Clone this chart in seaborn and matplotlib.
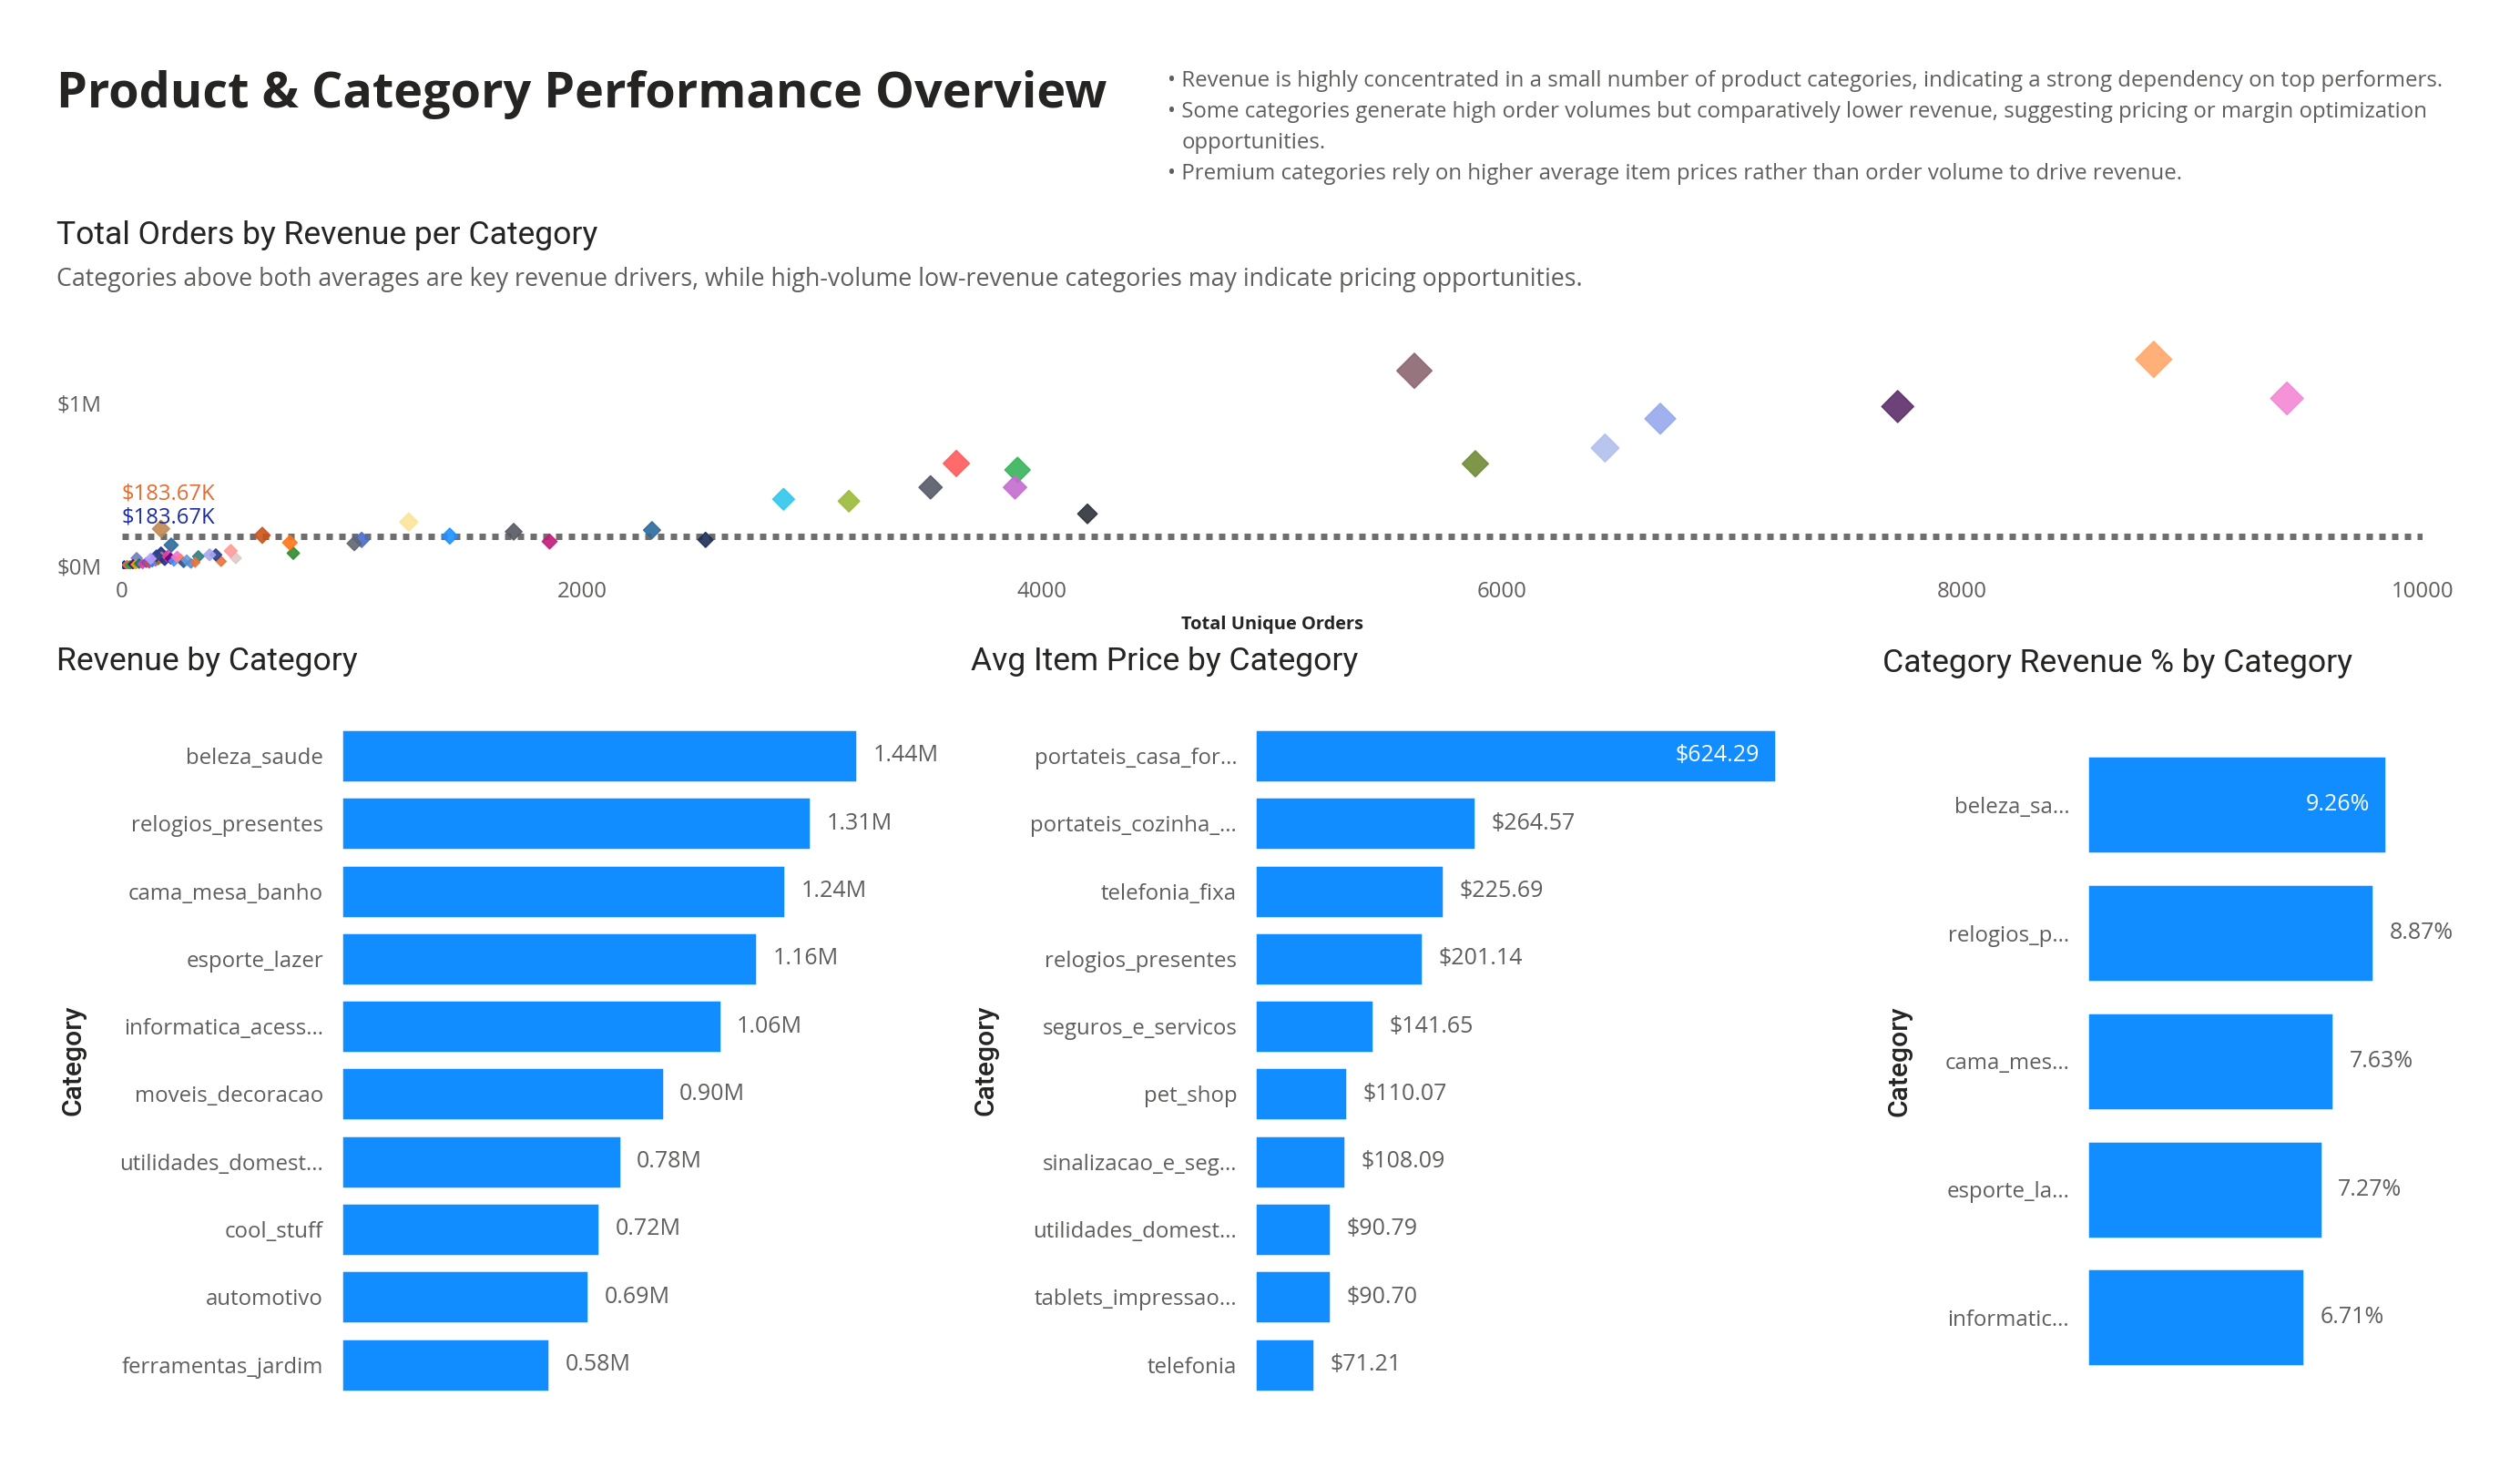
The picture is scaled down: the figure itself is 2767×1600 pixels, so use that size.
import matplotlib
matplotlib.use("Agg")
import matplotlib.pyplot as plt
import pandas as pd
import seaborn as sns

# ---- data ----
revenue_categories = [
    "beleza_saude", "relogios_presentes", "cama_mesa_banho", "esporte_lazer",
    "informatica_acess...", "moveis_decoracao", "utilidades_domest...",
    "cool_stuff", "automotivo", "ferramentas_jardim",
]
revenue_values = [1.44, 1.31, 1.24, 1.16, 1.06, 0.90, 0.78, 0.72, 0.69, 0.58]  # millions

price_categories = [
    "portateis_casa_for...", "portateis_cozinha_...", "telefonia_fixa",
    "relogios_presentes", "seguros_e_servicos", "pet_shop",
    "sinalizacao_e_seg...", "utilidades_domest...", "tablets_impressao...",
    "telefonia",
]
price_values = [624.29, 264.57, 225.69, 201.14, 141.65, 110.07, 108.09, 90.79, 90.70, 71.21]

pct_categories = ["beleza_sa...", "relogios_p...", "cama_mes...", "esporte_la...", "informatic..."]
pct_values = [9.26, 8.87, 7.63, 7.27, 6.71]

scatter_orders = [
    5618, 8832, 9411, 7719, 6687, 6447, 5883, 4197, 3627, 3893,
    3882, 3515, 3160, 2876, 2537, 2304, 1859, 1703, 1425, 1247,
    1042, 1010, 745, 730, 610, 495, 473, 431, 408, 381,
    332, 214, 170, 170, 64,
    10, 22, 35, 48, 60, 75, 90, 105, 118, 132, 146, 158, 172, 186,
    198, 212, 226, 240, 255, 268, 282, 300, 318, 150, 125,
]
scatter_revenue = [
    1.20, 1.27, 1.03, 0.98, 0.905, 0.725, 0.628, 0.32, 0.63, 0.59,
    0.483, 0.483, 0.398, 0.41, 0.16, 0.22, 0.15, 0.21, 0.183, 0.27,
    0.16, 0.138, 0.078, 0.143, 0.188, 0.048, 0.092, 0.028, 0.068, 0.068,
    0.058, 0.128, 0.228, 0.078, 0.048,
    0.004, 0.006, 0.005, 0.010, 0.008, 0.014, 0.012, 0.020, 0.016, 0.025,
    0.030, 0.040, 0.050, 0.035, 0.060, 0.045, 0.030, 0.055, 0.040, 0.020,
    0.035, 0.015, 0.022, 0.062, 0.044,
]
scatter_colors = [
    "#8B6670", "#FFA86B", "#F487D5", "#5C2D6B", "#96A9EB", "#B0BFEE", "#6F8B35", "#2D323A", "#FF5B5B", "#36B45A",
    "#C46DCF", "#545A66", "#9ABB3A", "#2FC7EE", "#1B2E56", "#2C6A9C", "#C41A7B", "#555A60", "#1E90FF", "#FCE49A",
    "#4A6BC8", "#5E6670", "#2E8B2E", "#FF7518", "#CC5418", "#E0C8C8", "#FF9A9A", "#E8733A", "#2C3E8C", "#A8A8F0",
    "#2E7D7D", "#2C6A9C", "#C08850", "#1F2D8C", "#7080C0",
    "#12239E", "#E66C37", "#1AAB40", "#6B007B", "#D9B300", "#197278", "#E044A7", "#744EC2", "#D64550", "#118DFF",
    "#8D6FD1", "#99700A", "#C08850", "#1F2D8C", "#E044A7", "#6B007B", "#4092FF", "#F472D0", "#FF8080", "#255A91",
    "#6B9BD1", "#4A90E2", "#E8733A", "#2C3E8C", "#B5A1FF",
]

avg_revenue = 0.18367  # millions

bullets = [
    "Revenue is highly concentrated in a small number of product categories, indicating a strong dependency on top performers.",
    "Some categories generate high order volumes but comparatively lower revenue, suggesting pricing or margin optimization",
    "opportunities.",
    "Premium categories rely on higher average item prices rather than order volume to drive revenue.",
]

BAR_COLOR = "#118DFF"
DARK = "#252423"
GRAY = "#605E5C"
BODY_FONT = "Open Sans"
HEAD_FONT = "Roboto"

W, H = 1550, 896  # layout grid


def fx(x):
    return x / W


def fy(y):
    return 1 - y / H


sns.set_style("white")
plt.rcParams["font.family"] = [BODY_FONT, "DejaVu Sans"]

fig = plt.figure(figsize=(2767 / 180, 1600 / 180), dpi=180)
fig.patch.set_facecolor("white")

# ---- header ----
fig.text(fx(35), fy(58), "Product & Category Performance Overview", fontsize=21.6,
         fontweight="bold", color=DARK, va="center", ha="left")
bullet_rows = [(718, 50, True), (718, 69, True), (727, 88, False), (718, 107, True)]
for (bx, by, dot), line in zip(bullet_rows, bullets):
    fig.text(fx(bx), fy(by), ("• " if dot else "") + line, fontsize=9.6, color=GRAY,
             va="center", ha="left")

fig.text(fx(35), fy(145), "Total Orders by Revenue per Category", fontsize=14.2,
         family=HEAD_FONT, color=DARK, va="center")
fig.text(fx(35), fy(172), "Categories above both averages are key revenue drivers, while "
         "high-volume low-revenue categories may indicate pricing opportunities.",
         fontsize=10.7, color=GRAY, va="center")

# ---- scatter ----
scatter_df = pd.DataFrame({
    "orders": scatter_orders,
    "revenue": [v * 1e6 for v in scatter_revenue],
    "point": [f"p{i}" for i in range(len(scatter_orders))],
})
palette = dict(zip(scatter_df["point"], scatter_colors))

ax_sc = fig.add_axes([fx(75), fy(350), fx(1490) - fx(75), (350 - 203) / H])
ax_sc.axhline(avg_revenue * 1e6, color="#6E6E6E", linestyle=(0, (1, 1)), linewidth=2.8, zorder=0)
sns.scatterplot(data=scatter_df, x="orders", y="revenue", hue="point", palette=palette,
                size="revenue", sizes=(7, 128), size_norm=(0, 1.3e6), marker="D",
                alpha=0.9, edgecolor="face", linewidth=0.6, legend=False, ax=ax_sc)
ax_sc.text(0, avg_revenue * 1e6 + 0.045e6, "$183.67K", color="#1A2AA0", fontsize=9.5,
           ha="left", va="bottom")
ax_sc.text(0, avg_revenue * 1e6 + 0.19e6, "$183.67K", color="#E8692E", fontsize=9.5,
           ha="left", va="bottom")
ax_sc.set_xlim(0, 10000)
ax_sc.set_ylim(-0.02e6, 1.45e6)
ax_sc.set_xticks([0, 2000, 4000, 6000, 8000, 10000])
ax_sc.set_yticks([0, 1e6])
ax_sc.set_yticklabels(["$0M", "$1M"])
ax_sc.tick_params(axis="both", length=0, labelsize=9.6, labelcolor=GRAY)
ax_sc.tick_params(axis="y", pad=9)
ax_sc.tick_params(axis="x", pad=5)
ax_sc.set_xlabel("Total Unique Orders", fontsize=8, fontweight="bold", color=DARK, labelpad=6)
ax_sc.set_ylabel("")
sns.despine(ax=ax_sc, left=True, bottom=True)


# ---- bar charts ----
def bar_panel(rect, cats, vals, xmax, fmt, title, title_xy, label_x, bar_width=0.78):
    ax = fig.add_axes(rect)
    df = pd.DataFrame({"Category": cats, "value": vals})
    sns.barplot(data=df, x="value", y="Category", color=BAR_COLOR, width=bar_width,
                saturation=1, ax=ax)
    ax.set_xlim(0, xmax)
    ax.set_xticks([])
    ax.set_xlabel("")
    ax.tick_params(axis="y", length=0, pad=8, labelsize=9.6, labelcolor=GRAY)
    ax.set_ylabel("Category", family=HEAD_FONT, fontsize=12, fontweight="medium", color=DARK)
    ax.yaxis.set_label_coords(label_x, 0.5)
    sns.despine(ax=ax, left=True, bottom=True)
    top = max(vals)
    for patch, v in zip(ax.patches, vals):
        yc = patch.get_y() + patch.get_height() / 2
        # the longest bar carries its label inside only where the reference does
        if v == top and fmt(v).startswith(("$6", "9.")):
            ax.annotate(fmt(v), (patch.get_width(), yc), xytext=(-7, 0),
                        textcoords="offset points", ha="right", va="center",
                        color="white", fontsize=10)
        else:
            ax.annotate(fmt(v), (patch.get_width(), yc), xytext=(7, 0),
                        textcoords="offset points", ha="left", va="center",
                        color=GRAY, fontsize=10)
    fig.text(fx(title_xy[0]), fy(title_xy[1]), title, family=HEAD_FONT, fontsize=14.2,
             color=DARK, va="center")
    return ax


bar_panel([fx(210), fy(860), (580 - 210) / W, (860 - 444) / H],
          revenue_categories, revenue_values, 1.68, lambda v: f"{v:.2f}M",
          "Revenue by Category", (35, 407), -0.424)
bar_panel([fx(772), fy(860), (1130 - 772) / W, (860 - 444) / H],
          price_categories, price_values, 698, lambda v: f"${v:.2f}",
          "Avg Item Price by Category", (597, 407), -0.441)
bar_panel([fx(1284), fy(849.6), (1530 - 1284) / W, (849.6 - 455.6) / H],
          pct_categories, pct_values, 12.4, lambda v: f"{v:.2f}%",
          "Category Revenue % by Category", (1158, 408), -0.439, bar_width=0.76)

fig.savefig("out.png", dpi=180, facecolor="white")
